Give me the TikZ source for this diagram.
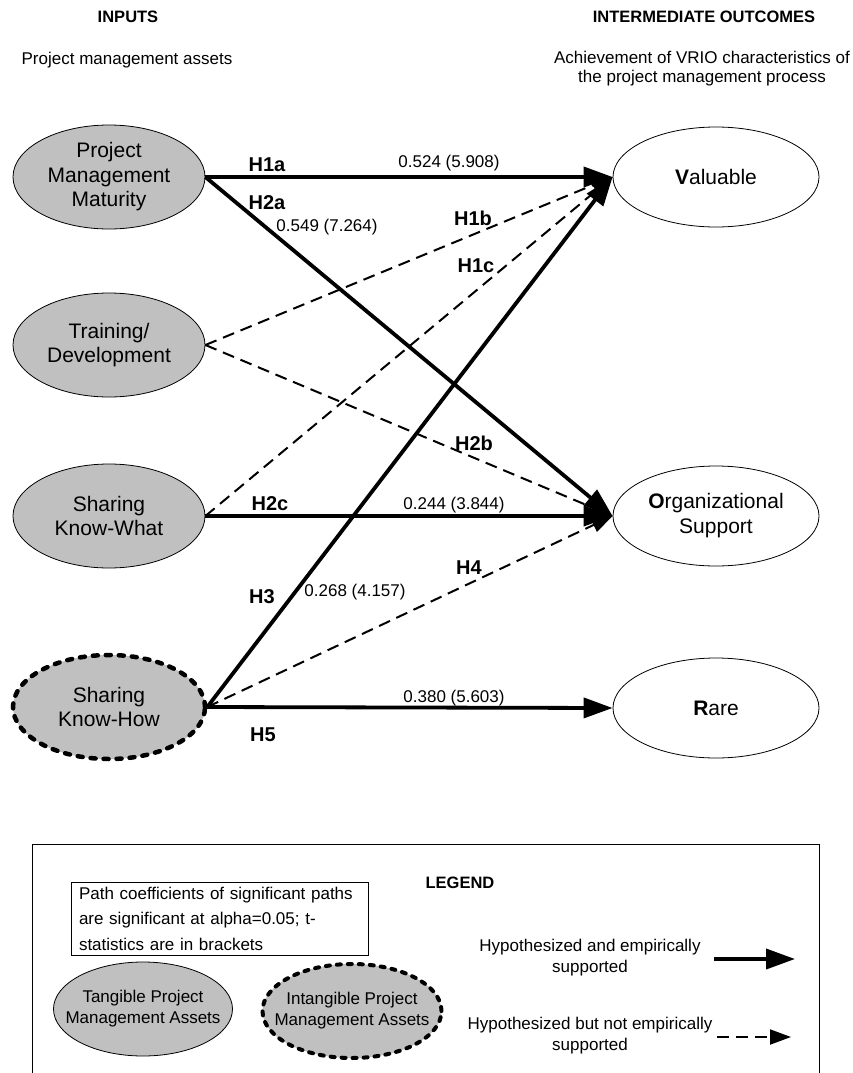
\documentclass[tikz,border=0pt]{standalone}
\usepackage{fontspec}
\setmainfont{Liberation Sans}
\usetikzlibrary{shapes.geometric,arrows.meta}
\definecolor{assetgray}{RGB}{192,192,192}

\begin{document}
\begin{tikzpicture}[x=1pt,y=-1pt,
	asset node/.style={ellipse,draw,line width=0.8pt,fill=assetgray,inner sep=0pt,
		minimum width=192pt,minimum height=104pt,align=center,font=\fontsize{21}{24.5}\selectfont},
	outcome node/.style={ellipse,draw,line width=0.8pt,fill=white,inner sep=0pt,
		minimum width=206pt,minimum height=100pt,align=center,font=\fontsize{21}{25}\selectfont},
	intangible/.style={line width=4.5pt,dash pattern=on 5pt off 8pt,line cap=round},
	key asset/.style={inner ysep=0pt,inner xsep=-22pt,minimum width=179pt,minimum height=94pt,
		font=\fontsize{17}{21}\selectfont},
	sup edge/.style={-{Triangle[length=29pt,width=20pt]},line width=3.8pt},
	nsup edge/.style={-{Triangle[length=21pt,width=15pt]},line width=2pt,dash pattern=on 12pt off 7pt},
	hyp label/.style={inner sep=0pt,font=\bfseries\fontsize{20}{24}\selectfont},
	coef label/.style={inner sep=0pt,font=\fontsize{17}{20}\selectfont},
	head label/.style={inner sep=0pt,font=\bfseries\fontsize{16.5}{20}\selectfont},
	plain label/.style={inner sep=0pt,align=center,font=\fontsize{17}{19}\selectfont},
	key text/.style={inner sep=0pt,align=center,font=\fontsize{17}{21}\selectfont}]
	
	\useasboundingbox (0,0) rectangle (853,1073);
	
	\node[head label] (in) at (128,17) {INPUTS};
	\node[head label] (out) at (704,17) {INTERMEDIATE OUTCOMES};
	\node[plain label] (ins) at (127,60) {Project management assets};
	\node[plain label] (outs) at (702,69) {Achievement of VRIO characteristics of\\the project management process};
	
	\node[asset node] (1) at (109,177) {Project\\Management\\Maturity};
	\node[asset node] (2) at (109,345) {Training/\\Development};
	\node[asset node] (3) at (109,516) {Sharing\\Know-What};
	\node[asset node,intangible] (4) at (109,707) {Sharing\\Know-How};
	
	\node[outcome node] (V) at (716,177) {\textbf{V}aluable};
	\node[outcome node] (O) at (716,516) {\textbf{O}rganizational\\Support};
	\node[outcome node] (R) at (716,708) {\textbf{R}are};
	
	\path
	(2.east) edge[nsup edge] (V.west)
	(3.east) edge[nsup edge] (V.west)
	(2.east) edge[nsup edge] (O.west)
	(4.east) edge[nsup edge] (O.west);
	\path
	(1.east) edge[sup edge] (V.west)
	(1.east) edge[sup edge] (O.west)
	(3.east) edge[sup edge] (O.west)
	(4.east) edge[sup edge] (V.west)
	(4.east) edge[sup edge] (R.west);
	
	\node[hyp label] (h1a) at (267,165) {H1a};
	\node[hyp label] (h2a) at (267,203) {H2a};
	\node[hyp label] (h1b) at (473,218) {H1b};
	\node[hyp label] (h1c) at (476,266) {H1c};
	\node[hyp label] (h2b) at (474,443) {H2b};
	\node[hyp label] (h2c) at (270,504) {H2c};
	\node[hyp label] (h3) at (262,597) {H3};
	\node[hyp label] (h4) at (469,568) {H4};
	\node[hyp label] (h5) at (263,735) {H5};
	
	\node[coef label] (c1a) at (449,163) {0.524 (5.908)};
	\node[coef label] (c2a) at (327,227) {0.549 (7.264)};
	\node[coef label] (c2c) at (454,505) {0.244 (3.844)};
	\node[coef label] (c3) at (355,592) {0.268 (4.157)};
	\node[coef label] (c5) at (454,698) {0.380 (5.603)};
	
	% legend
	\draw[line width=0.8pt] (32,1073) |- (819,844) -- (819,1073);
	\node[head label] (leg) at (460,883) {LEGEND};
	\node[draw,line width=0.8pt,inner xsep=8pt,inner ysep=2pt,text width=281pt,minimum height=73pt,
		align=left,font=\fontsize{17}{25.5}\selectfont] (note) at (219.5,918.5)
		{Path coefficients of significant paths\\are significant at alpha=0.05; t-\\statistics are in brackets};
	\node[asset node,key asset] (tang) at (143,1009) {Tangible Project\\Management Assets};
	\node[asset node,key asset,intangible,line width=4pt,dash pattern=on 4pt off 7pt] (intang) at (352,1011)
		{Intangible Project\\Management Assets};
	
	\node[key text] (k1) at (590,958) {Hypothesized and empirically\\supported};
	\node[key text] (k2) at (590,1036) {Hypothesized but not empirically\\supported};
	\coordinate (k1s) at (714,959);
	\coordinate (k1e) at (795,959);
	\coordinate (k2s) at (717,1037);
	\coordinate (k2e) at (791,1037);
	\path (k1s) edge[sup edge] (k1e)
	(k2s) edge[nsup edge] (k2e);
	
\end{tikzpicture}
\end{document}
